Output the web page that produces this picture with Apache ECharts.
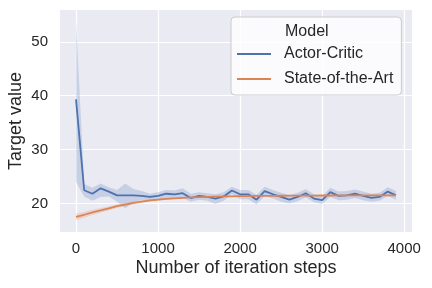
<!DOCTYPE html>
<html><head><meta charset="utf-8">
<script src="https://cdn.jsdelivr.net/npm/echarts@6/dist/echarts.min.js"></script>
<style>html,body{margin:0;padding:0;background:#fff}#c{width:432px;height:288px}</style>
</head><body><div id="c"></div>
<script>
const steps = [0,100,200,300,400,500,600,700,800,900,1000,1100,1200,1300,1400,1500,1600,1700,1800,1900,2000,2100,2200,2300,2400,2500,2600,2700,2800,2900,3000,3100,3200,3300,3400,3500,3600,3700,3800,3900];
const acMean = [39.3,22.45,21.8,22.8,22.2,21.5,21.5,21.5,21.4,21.2,21.4,21.8,21.7,21.9,21.0,21.4,21.2,20.9,21.3,22.4,21.7,21.7,20.7,22.3,21.7,21.2,20.7,21.2,21.9,20.9,20.6,22.1,21.4,21.5,21.8,21.4,21.05,21.2,22.2,21.5];
const acLower = [24.0,21.3,20.5,21.2,21.3,20.3,19.1,20.2,20.7,20.4,20.6,21.0,20.9,21.0,20.3,20.7,20.5,19.9,20.5,21.7,20.8,20.8,19.8,21.4,20.9,20.3,20.0,20.4,21.1,20.2,19.9,21.2,20.6,20.7,21.0,20.6,20.3,20.5,21.4,20.7];
const acUpper = [54.0,23.6,22.9,23.7,23.0,22.5,23.7,22.7,22.3,21.8,22.1,22.5,22.4,22.8,21.8,22.1,21.9,21.7,22.1,23.1,22.5,22.5,21.6,23.1,22.5,22.0,21.5,22.0,22.7,21.7,21.4,22.9,22.2,22.3,22.6,22.2,21.8,22.0,23.0,22.3];
const sotaMean = [17.5,17.9,18.35,18.7,19.1,19.5,19.8,20.1,20.35,20.55,20.7,20.85,20.95,21.05,21.12,21.18,21.23,21.27,21.3,21.33,21.35,21.37,21.39,21.4,21.42,21.43,21.44,21.45,21.46,21.46,21.47,21.47,21.48,21.48,21.48,21.49,21.49,21.49,21.5,21.5];
const sotaLower = [16.9,17.35,17.85,18.25,18.7,19.15,19.5,19.83,20.11,20.35,20.52,20.7,20.82,20.94,21.03,21.1,21.16,21.2,21.24,21.27,21.29,21.31,21.33,21.34,21.36,21.37,21.38,21.39,21.4,21.4,21.41,21.41,21.42,21.42,21.42,21.43,21.43,21.43,21.44,21.44];
const sotaUpper = [18.1,18.45,18.85,19.15,19.5,19.85,20.1,20.37,20.59,20.75,20.88,21.0,21.08,21.16,21.21,21.26,21.3,21.34,21.36,21.39,21.41,21.43,21.45,21.46,21.48,21.49,21.5,21.51,21.52,21.52,21.53,21.53,21.54,21.54,21.54,21.55,21.55,21.55,21.56,21.56];
const xTicks = [0,1000,2000,3000,4000];
const yTicks = [20,30,40,50];
const seriesNames = ['Actor-Critic','State-of-the-Art'];
const legendTitle = 'Model';

const FONT = "'Liberation Sans', Arial, sans-serif";
const TXT = '#262626';
const BLUE = '#4C72B0', ORANGE = '#DD8452';
const pairs = (ys) => ys.map((v,i)=>[steps[i], v]);
const triples = (lo, up) => lo.map((v,i)=>[steps[i], v, up[i]]);

function bandSeries(lo, up, fill){
  return {
    type:'custom', silent:true, z:1, clip:true,
    data: triples(lo, up),
    encode:{x:0, y:[1,2]},
    renderItem: function(params, api){
      if (params.dataIndex !== 0) return null;
      const pts = [];
      for (let i=0;i<steps.length;i++) pts.push(api.coord([steps[i], up[i]]));
      for (let i=steps.length-1;i>=0;i--) pts.push(api.coord([steps[i], lo[i]]));
      return {type:'polygon', shape:{points:pts}, style:{fill:fill, stroke:null}};
    }
  };
}

const chart = echarts.init(document.getElementById('c'), null, {renderer:'canvas'});
const axisLbl = (vals, margin) => ({customValues:vals, color:TXT, fontSize:15, margin, fontFamily:FONT, formatter:(v)=>String(v)});

chart.setOption({
  animation:false,
  textStyle:{fontFamily:FONT},
  grid:{left:60, right:20, top:10, bottom:56, show:true, backgroundColor:'#EAEAF2', borderWidth:0, containLabel:false, outerBoundsMode:'none'},
  xAxis:{type:'value', min:-195, max:4095,
    axisLine:{show:false}, axisTick:{show:false, customValues:xTicks},
    axisLabel:axisLbl(xTicks, 9),
    splitLine:{show:true, lineStyle:{color:'#fff', width:1.2}},
    name:'Number of iteration steps', nameLocation:'middle', nameGap:27, nameMoveOverlap:false,
    nameTextStyle:{color:TXT, fontSize:18, fontFamily:FONT}},
  yAxis:{type:'value', min:14.7, max:55.9,
    axisLine:{show:false}, axisTick:{show:false, customValues:yTicks},
    axisLabel:axisLbl(yTicks, 12),
    splitLine:{show:true, lineStyle:{color:'#fff', width:1.2}},
    name:'Target value', nameLocation:'middle', nameGap:35, nameMoveOverlap:false,
    nameTextStyle:{color:TXT, fontSize:18, fontFamily:FONT}},
  legend:{data:seriesNames, orient:'vertical', left:231, top:17, icon:'rect',
    padding:[29,8,8,6], itemGap:9, itemWidth:34, itemHeight:2,
    backgroundColor:'rgba(255,255,255,0.8)', borderColor:'#cccccc', borderWidth:1, borderRadius:4,
    textStyle:{color:TXT, fontSize:16, lineHeight:16, fontFamily:FONT, padding:[0,0,0,8]}},
  graphic:[{type:'text', left:285, top:24, z:100, style:{text:legendTitle, fill:TXT, font:"16px 'Liberation Sans', Arial, sans-serif"}}],
  series:[
    bandSeries(acLower, acUpper, 'rgba(76,114,176,0.22)'),
    bandSeries(sotaLower, sotaUpper, 'rgba(221,132,82,0.22)'),
    {name:seriesNames[0], type:'line', data:pairs(acMean), symbol:'none', color:BLUE, lineStyle:{color:BLUE, width:1.8}, z:3},
    {name:seriesNames[1], type:'line', data:pairs(sotaMean), symbol:'none', color:ORANGE, lineStyle:{color:ORANGE, width:1.8}, z:4}
  ]
});
</script></body></html>
